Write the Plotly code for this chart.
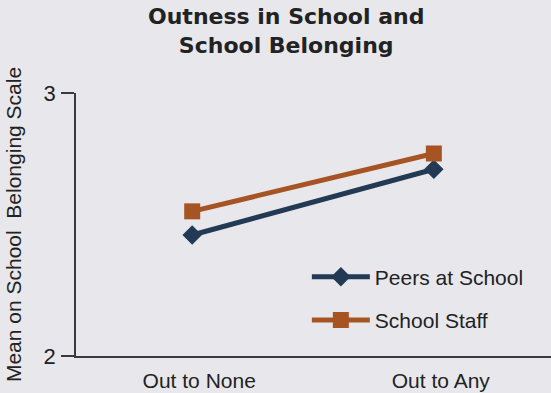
import plotly.graph_objects as go

categories = ["Out to None", "Out to Any"]
peers = [2.46, 2.71]
staff = [2.55, 2.77]
series_names = ["Peers at School", "School Staff"]
y_ticks = [2, 3]

navy = "#223a54"
orange = "#a65424"
bg = "#e8e8ec"
axis_col = "#3a3a3a"
font_fam = "Liberation Sans, Arial, sans-serif"

fig = go.Figure()
fig.add_trace(go.Scatter(
    x=[0, 1], y=peers, mode="lines+markers", name=series_names[0],
    line=dict(color=navy, width=5),
    marker=dict(symbol="diamond", size=15, color=navy),
    legendgroup="a",
))
fig.add_trace(go.Scatter(
    x=[0, 1], y=staff, mode="lines+markers", name=series_names[1],
    line=dict(color=orange, width=5),
    marker=dict(symbol="square", size=16, color=orange),
    legendgroup="b",
))

fig.add_annotation(
    text="<b>Outness in School and<br>School Belonging</b>",
    xref="paper", yref="paper", x=0.442, y=1.236,
    xanchor="center", yanchor="middle", showarrow=False,
    font=dict(family="DejaVu Sans, Verdana, sans-serif", size=22, color="#222222"),
)

fig.update_layout(
    width=551, height=393,
    paper_bgcolor=bg, plot_bgcolor=bg,
    margin=dict(l=76, r=0, t=93, b=37),
    font=dict(family=font_fam, size=21, color="#222222"),
    xaxis=dict(
        range=[-0.481, 1.485],
        tickvals=[0, 1], ticktext=categories,
        showline=True, linecolor=axis_col, linewidth=1.5,
        showgrid=False, zeroline=False, ticks="",
        tickfont=dict(size=21), automargin=False,
        ticklabelstandoff=5, ticklabelshift=7,
    ),
    yaxis=dict(
        range=[2, 3], tickvals=y_ticks,
        showline=True, linecolor=axis_col, linewidth=1.5,
        ticks="outside", ticklen=13, tickwidth=1.5, tickcolor=axis_col,
        showgrid=False, zeroline=False,
        tickfont=dict(size=22), automargin=False,
        ticklabelstandoff=1,
        title=dict(text="Mean on School  Belonging Scale", font=dict(size=21), standoff=16),
    ),
    legend=dict(
        x=0.486, y=0.378, xanchor="left", yanchor="top",
        bgcolor="rgba(0,0,0,0)", font=dict(size=21),
        tracegroupgap=13, itemwidth=58,
    ),
)

fig.write_html("out.html", config={"displayModeBar": False},
               post_script="document.body.style.margin='0';")
